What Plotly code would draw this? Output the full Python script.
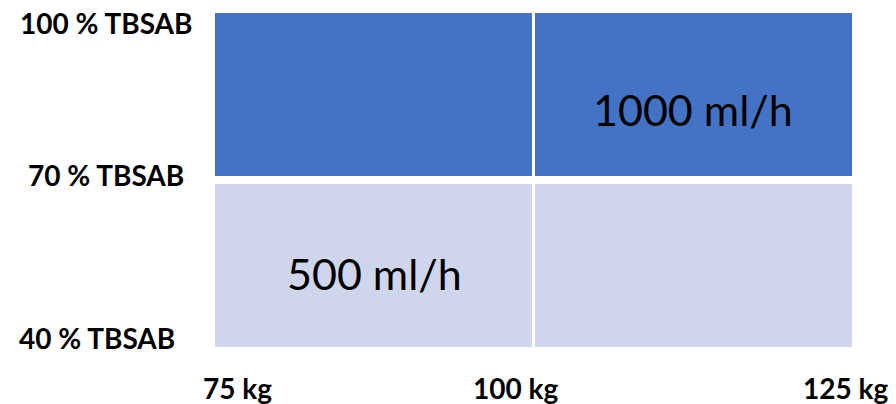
import plotly.graph_objects as go

# Infusion-rate grid: body weight (kg) across, burned surface area (% TBSAB) up
weight_edges = [75, 100, 125]
tbsab_edges = [40, 70, 100]
weight_labels = ["75 kg", "100 kg", "125 kg"]
tbsab_labels = ["40 % TBSAB", "70 % TBSAB", "100 % TBSAB"]
rate_grid = [[500, 500], [1000, 1000]]          # ml/h, rows bottom -> top
rate_text = ["500 ml/h", "1000 ml/h"]
rate_text_cell = [(0, 0), (1, 1)]               # (column, row) holding each label

# label placement tweaks (pixels)
y_label_dx = [-118, -109, -108.5]
y_label_dy = [9.5, 5, -9.5]
x_label_dx = [22, -18.5, -7]
x_label_dy = -41
rate_text_dy = [-10, -13]

W, H = 896, 404
fig = go.Figure()

fig.add_trace(go.Heatmap(
    x=weight_edges, y=tbsab_edges, z=rate_grid,
    zmin=500, zmax=1000,
    colorscale=[[0, "#CFD5EA"], [1, "#4472C4"]],
    showscale=False, hoverinfo="skip",
))

# white separators between the cells
for xv in weight_edges[1:-1]:
    fig.add_shape(type="line", xref="x", yref="y", x0=xv, x1=xv,
                  y0=tbsab_edges[0], y1=tbsab_edges[-1],
                  line=dict(color="white", width=3))
for yv in tbsab_edges[1:-1]:
    fig.add_shape(type="line", xref="x", yref="y", y0=yv, y1=yv,
                  x0=weight_edges[0], x1=weight_edges[-1],
                  line=dict(color="white", width=8))

bold = dict(family="Lato", size=28, color="black", weight="bold")

for lbl, yv, dx, dy in zip(tbsab_labels, tbsab_edges, y_label_dx, y_label_dy):
    fig.add_annotation(text=f"<b>{lbl}</b>", x=0, xref="paper", y=yv, yref="y",
                       xanchor="center", yanchor="middle", xshift=dx, yshift=dy,
                       showarrow=False, font=bold)

for lbl, xv, dx in zip(weight_labels, weight_edges, x_label_dx):
    fig.add_annotation(text=f"<b>{lbl}</b>", x=xv, xref="x", y=0, yref="paper",
                       xanchor="center", yanchor="middle", xshift=dx, yshift=x_label_dy,
                       showarrow=False, font=bold)

for txt, (ci, ri), dy in zip(rate_text, rate_text_cell, rate_text_dy):
    cx = (weight_edges[ci] + weight_edges[ci + 1]) / 2
    cy = (tbsab_edges[ri] + tbsab_edges[ri + 1]) / 2
    fig.add_annotation(text=txt, x=cx, y=cy, xref="x", yref="y",
                       xanchor="center", yanchor="middle", yshift=dy,
                       showarrow=False,
                       font=dict(family="Lato", size=43, color="black"))

fig.update_xaxes(range=[weight_edges[0], weight_edges[-1]], visible=False, fixedrange=True)
fig.update_yaxes(range=[tbsab_edges[0], tbsab_edges[-1]], visible=False, fixedrange=True)
fig.update_layout(
    width=W, height=H,
    margin=dict(l=215, r=44, t=13, b=57, pad=0),
    plot_bgcolor="white", paper_bgcolor="white",
    showlegend=False,
)

fig.write_html("out.html")
